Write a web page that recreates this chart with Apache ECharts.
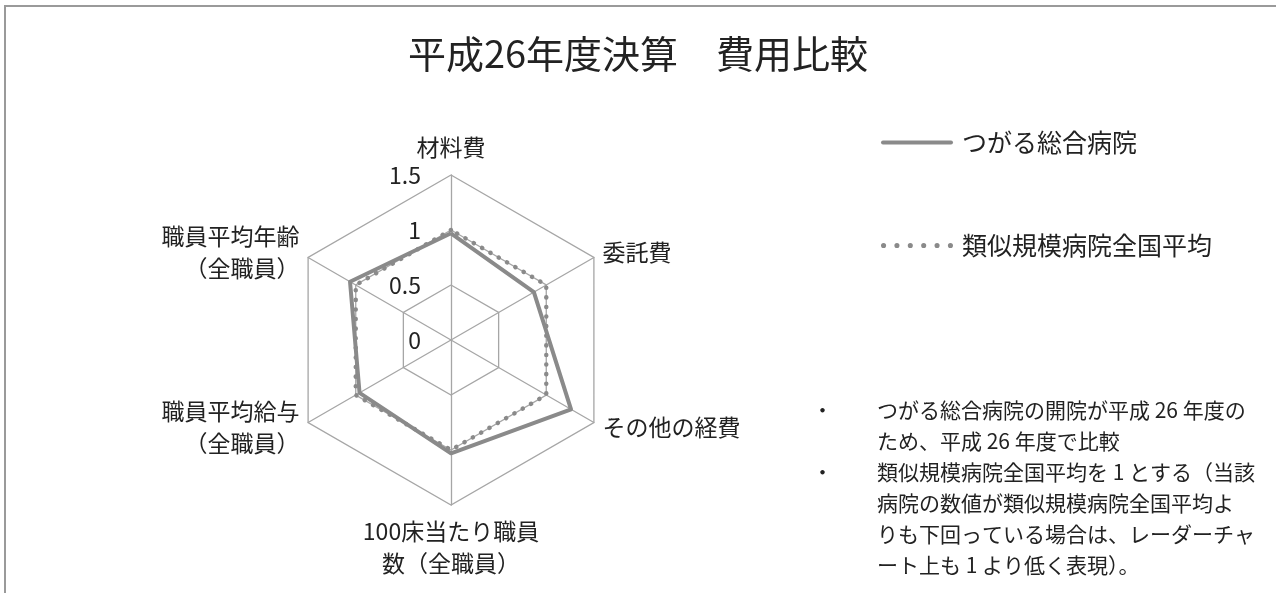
<!DOCTYPE html>
<html>
<head>
<meta charset="utf-8">
<script src="https://cdn.jsdelivr.net/npm/echarts@6/dist/echarts.min.js"></script>
<style>
  html, body { margin: 0; padding: 0; background: #fff; }
  #chart { width: 1276px; height: 593px; }
</style>
</head>
<body>
<div id="chart"></div>
<script>
// 軸（時計回り表示になるよう ECharts の反時計回り順で並べる）
var axisNames = ['材料費', '職員平均年齢\n（全職員）', '職員平均給与\n（全職員）', '100床当たり職員\n数（全職員）', 'その他の経費', '委託費'];
var tsugaru = [0.97, 1.06, 0.96, 1.03, 1.26, 0.87];
var national = [1, 1, 1, 1, 1, 1];
var seriesNames = ['つがる総合病院', '類似規模病院全国平均'];
var notes = [
  'つがる総合病院の開院が平成 26 年度の',
  'ため、平成 26 年度で比較',
  '類似規模病院全国平均を 1 とする（当該',
  '病院の数値が類似規模病院全国平均よ',
  'りも下回っている場合は、レーダーチャ',
  'ート上も 1 より低く表現）。'
];
var bulletLines = [0, 2];

var FONT = '"Noto Sans CJK JP", "Noto Sans", sans-serif';
var chart = echarts.init(document.getElementById('chart'));

var indicator = axisNames.map(function (n, i) {
  var ind = { name: n, min: 0, max: 1.5 };
  if (i === 0) ind.axisLabel = { show: true };
  return ind;
});

// 凡例アイコン（実線・丸点線）
var solidIcon = 'path://M2,0 L70,0 A2,2 0 0 1 70,4 L2,4 A2,2 0 0 1 2,0 Z';
var dotIcon = 'path://';
for (var k = 0; k < 6; k++) {
  var cx = 2.2 + k * 11.5;
  dotIcon += 'M' + (cx - 2.2) + ',2.2 A2.2,2.2 0 1 0 ' + (cx + 2.2) + ',2.2 A2.2,2.2 0 1 0 ' + (cx - 2.2) + ',2.2 Z ';
}

var graphics = [
  { type: 'rect', shape: { x: 5, y: 6, width: 1300, height: 700 }, style: { fill: 'none', stroke: '#9a9a9a', lineWidth: 2 } }
];
notes.forEach(function (t, i) {
  graphics.push({
    type: 'text', left: 877, top: 400 + i * 31,
    style: { text: t, font: '21px ' + FONT, fill: '#222' }
  });
});
bulletLines.forEach(function (i) {
  graphics.push({
    type: 'text', left: 812, top: 400 + i * 31,
    style: { text: '・', font: '21px ' + FONT, fill: '#222' }
  });
});

var option = {
  animation: false,
  textStyle: { fontFamily: FONT },
  title: {
    text: '平成26年度決算　費用比較',
    left: 'center', top: 30,
    textStyle: { fontSize: 38, fontWeight: 'normal', color: '#222', fontFamily: FONT }
  },
  legend: {
    orient: 'vertical', left: 876, top: 125,
    itemWidth: 72, itemHeight: 14, itemGap: 78,
    data: [
      { name: seriesNames[0], icon: solidIcon },
      { name: seriesNames[1], icon: dotIcon }
    ],
    textStyle: { fontSize: 25, color: '#222', fontFamily: FONT, padding: [0, 0, 0, 4] }
  },
  radar: {
    center: [451, 340], radius: 165,
    shape: 'polygon', splitNumber: 3,
    indicator: indicator,
    axisName: { color: '#222', fontSize: 23, fontFamily: FONT, lineHeight: 32 },
    nameGap: 10,
    splitArea: { show: false },
    splitLine: { lineStyle: { color: '#a6a6a6', width: 1.3 } },
    axisLine: { lineStyle: { color: '#a6a6a6', width: 1.3 } },
    axisLabel: { show: false, color: '#222', fontSize: 23, fontFamily: FONT, margin: 30 }
  },
  series: [{
    type: 'radar',
    symbol: 'none',
    data: [
      { name: seriesNames[0], value: tsugaru,
        lineStyle: { color: '#8a8a8a', width: 4 }, itemStyle: { color: '#8a8a8a' } },
      { name: seriesNames[1], value: national,
        lineStyle: { color: '#8a8a8a', width: 4.5, type: [0.1, 9.5], cap: 'round' }, itemStyle: { color: '#8a8a8a' } }
    ]
  }],
  graphic: graphics
};
chart.setOption(option);
</script>
</body>
</html>
